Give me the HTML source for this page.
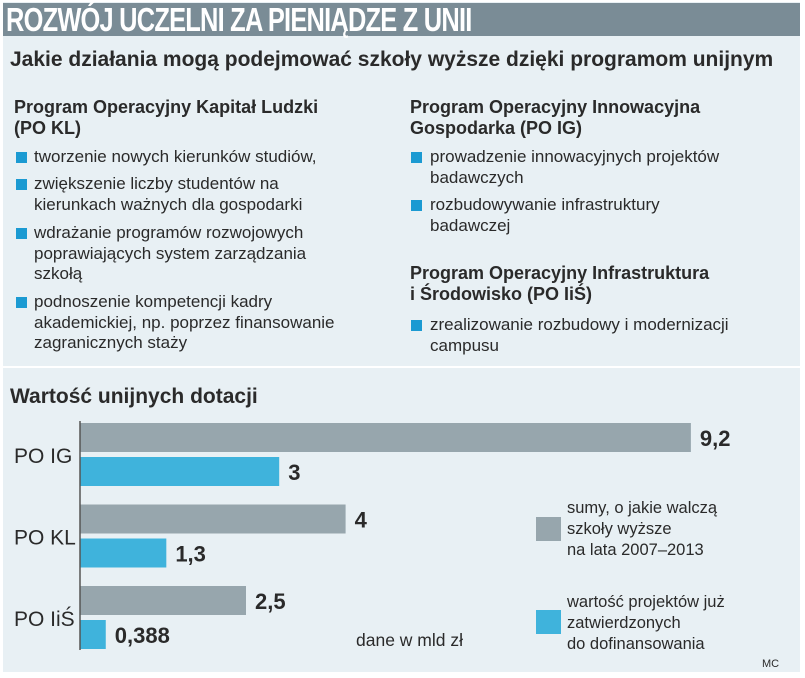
<!DOCTYPE html>
<html><head><meta charset="utf-8">
<style>
body{margin:0;width:805px;height:678px;background:#fff;position:relative;overflow:hidden;font-family:"Liberation Sans",sans-serif;color:#2a2a2a}
.a{position:absolute;white-space:nowrap;line-height:20.5px;font-size:17px;transform-origin:0 0}
.h{font-weight:bold;font-size:18px}
.b{font-weight:bold}
.sq{position:absolute;width:11px;height:11px;background:#1b9ad2}
</style></head><body>
<div style="position:absolute;left:3px;top:2px;width:797px;height:364px;background:#e8f0f4"></div>
<div style="position:absolute;left:3px;top:368px;width:797px;height:304px;background:#e8f0f4"></div>
<div style="position:absolute;left:3px;top:3px;width:797px;height:33px;background:#7a8c96"></div>
<div class="a b" style="left:6px;top:3px;font-size:33px;line-height:34px;color:#fff;letter-spacing:-1px;transform:scaleX(0.77)">ROZWÓJ UCZELNI ZA PIENIĄDZE Z UNII</div>
<div class="a b" style="left:10px;top:49px;font-size:21px;line-height:22px">Jakie działania mogą podejmować szkoły wyższe dzięki programom unijnym</div>

<div class="a h" style="left:14px;top:97px">Program Operacyjny Kapitał Ludzki<br>(PO KL)</div>
<div class="sq" style="left:16px;top:152px"></div><div class="a" style="left:34px;top:147px">tworzenie nowych kierunków studiów,</div>
<div class="sq" style="left:16px;top:179px"></div><div class="a" style="left:34px;top:174px">zwiększenie liczby studentów na<br>kierunkach ważnych dla gospodarki</div>
<div class="sq" style="left:16px;top:228px"></div><div class="a" style="left:34px;top:223px">wdrażanie programów rozwojowych<br>poprawiających system zarządzania<br>szkołą</div>
<div class="sq" style="left:16px;top:297px"></div><div class="a" style="left:34px;top:292px">podnoszenie kompetencji kadry<br>akademickiej, np. poprzez finansowanie<br>zagranicznych staży</div>

<div class="a h" style="left:410px;top:97px">Program Operacyjny Innowacyjna<br>Gospodarka (PO IG)</div>
<div class="sq" style="left:411px;top:152px"></div><div class="a" style="left:430px;top:147px">prowadzenie innowacyjnych projektów<br>badawczych</div>
<div class="sq" style="left:411px;top:200px"></div><div class="a" style="left:430px;top:195px">rozbudowywanie infrastruktury<br>badawczej</div>
<div class="a h" style="left:410px;top:263px">Program Operacyjny Infrastruktura<br>i Środowisko (PO IiŚ)</div>
<div class="sq" style="left:411px;top:320px"></div><div class="a" style="left:430px;top:315px">zrealizowanie rozbudowy i modernizacji<br>campusu</div>

<div class="a b" style="left:10px;top:386px;font-size:21px;line-height:22px">Wartość unijnych dotacji</div>
<svg id="chart" width="805" height="678" style="position:absolute;left:0;top:0"></svg>
<div class="a" style="left:356px;top:630px;font-size:17.5px">dane w mld zł</div>
<div class="a" style="left:567px;top:498px;font-size:16.5px;line-height:21px">sumy, o jakie walczą<br>szkoły wyższe<br>na lata 2007–2013</div>
<div class="a" style="left:567px;top:592px;font-size:16.5px;line-height:21px">wartość projektów już<br>zatwierdzonych<br>do dofinansowania</div>
<div class="a" style="left:762px;top:654px;font-size:11px">MC</div>

<script>
const categories=["PO IG","PO KL","PO IiŚ"];
const totalValues=[9.2,4,2.5];
const approvedValues=[3,1.3,0.388];
const totalLabels=["9,2","4","2,5"];
const approvedLabels=["3","1,3","0,388"];
const svg=document.getElementById('chart');
const NS="http://www.w3.org/2000/svg";
const x0=80,pxPer=66.4;
function xs(v){return x0+v*pxPer;}
function gy(i){return 423+i*81.5;}
function mk(t,a){const e=document.createElementNS(NS,t);for(const k in a)e.setAttribute(k,a[k]);svg.appendChild(e);return e;}
categories.forEach((c,i)=>{
  const y=gy(i);
  const r1=mk('rect',{x:x0,y:y,width:xs(totalValues[i])-x0,height:29,fill:'#97a6ad'});
  
  
  const r2=mk('rect',{x:x0,y:y+34,width:xs(approvedValues[i])-x0,height:29,fill:'#3fb3dc'});
  
  
  const t1=mk('text',{x:xs(totalValues[i])+9,y:y+23,'font-size':22,'font-weight':'bold',fill:'#2a2a2a','font-family':'Liberation Sans, sans-serif'});t1.textContent=totalLabels[i];
  
  
  const t2=mk('text',{x:xs(approvedValues[i])+9,y:y+57,'font-size':22,'font-weight':'bold',fill:'#2a2a2a','font-family':'Liberation Sans, sans-serif'});t2.textContent=approvedLabels[i];
  
  
  const l=mk('text',{x:14,y:y+40,'font-size':21,fill:'#2a2a2a','font-family':'Liberation Sans, sans-serif'});l.textContent=c;
  
  
});
const ax=mk('line',{x1:x0,y1:421,x2:x0,y2:650,stroke:'#555','stroke-width':1.5});


const lg1=mk('rect',{x:536,y:517,width:25,height:24,fill:'#97a6ad'});


const lg2=mk('rect',{x:536,y:610,width:25,height:24,fill:'#3fb3dc'});


</script>
</body></html>
